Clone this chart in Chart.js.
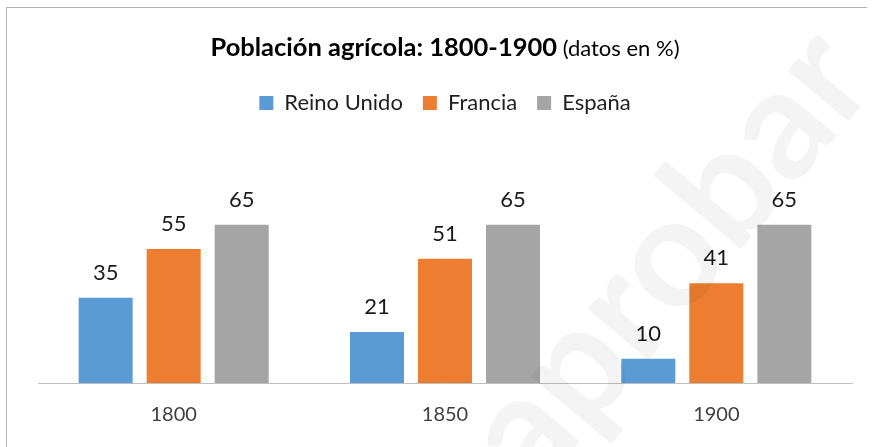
<!DOCTYPE html>
<html lang="es">
<head>
<meta charset="utf-8">
<script src="https://cdn.jsdelivr.net/npm/chart.js@4.4.1/dist/chart.umd.min.js"></script>
<style>
  html, body { margin: 0; padding: 0; background: #fff; }
  #wrap { position: relative; width: 873px; height: 447px; overflow: hidden; }
  #frame { position: absolute; left: 6px; top: 7px; width: 860px; height: 460px;
           border-top: 1px solid #b4b4b4; border-left: 1px solid #b4b4b4; }
  #chart { position: absolute; left: 0; top: 0; }
</style>
</head>
<body>
<div id="wrap">
  <div id="frame"></div>
  <canvas id="chart" width="873" height="447"></canvas>
</div>
<script>
const years = ['1800', '1850', '1900'];
const reinoUnido = [35, 21, 10];
const francia = [55, 51, 41];
const espana = [65, 65, 65];

const FONT = 'Lato, "Open Sans", sans-serif';

// title with a bold part and a normal part on the same line
const titlePlugin = {
  id: 'mixedTitle',
  afterDraw(chart) {
    const ctx = chart.ctx;
    const bold = 'Población agrícola: 1800-1900';
    const normal = ' (datos en %)';
    ctx.save();
    ctx.textBaseline = 'alphabetic';
    ctx.fillStyle = '#000';
    ctx.font = 'bold 25.5px ' + FONT;
    const wb = ctx.measureText(bold).width;
    ctx.font = '22px ' + FONT;
    const wn = ctx.measureText(normal).width;
    const x = 445 - (wb + wn) / 2;
    ctx.font = 'bold 25.5px ' + FONT;
    ctx.fillText(bold, x, 56);
    ctx.font = '22px ' + FONT;
    ctx.fillText(normal, x + wb, 56);
    ctx.restore();
  }
};

// value above each bar
const valueLabels = {
  id: 'valueLabels',
  afterDatasetsDraw(chart) {
    const ctx = chart.ctx;
    ctx.save();
    ctx.font = '22px ' + FONT;
    ctx.fillStyle = '#1a1a1a';
    ctx.textAlign = 'center';
    ctx.textBaseline = 'alphabetic';
    chart.data.datasets.forEach((ds, i) => {
      chart.getDatasetMeta(i).data.forEach((bar, j) => {
        ctx.fillText(ds.data[j], bar.x, bar.y - 18);
      });
    });
    ctx.restore();
  }
};

// faint site watermark across the right side
const watermark = {
  id: 'watermark',
  afterDraw(chart) {
    const ctx = chart.ctx;
    ctx.save();
    ctx.translate(535, 495);
    ctx.rotate(-50 * Math.PI / 180);
    ctx.font = 'bold 155px ' + FONT;
    ctx.fillStyle = 'rgba(0,0,0,0.045)';
    ctx.textBaseline = 'alphabetic';
    ctx.fillText('aprobar', 0, 0);
    ctx.restore();
  }
};

new Chart(document.getElementById('chart'), {
  type: 'bar',
  data: {
    labels: years,
    datasets: [
      { label: 'Reino Unido', data: reinoUnido, backgroundColor: '#5B9BD5' },
      { label: 'Francia', data: francia, backgroundColor: '#ED7D31' },
      { label: 'España', data: espana, backgroundColor: '#A5A5A5' }
    ]
  },
  options: {
    responsive: false,
    animation: false,
    categoryPercentage: 0.752,
    barPercentage: 0.794,
    layout: { padding: { top: 72, left: 38, right: 21, bottom: 0 } },
    plugins: {
      title: { display: false },
      tooltip: { enabled: false },
      legend: {
        position: 'top',
        labels: {
          font: { family: FONT, size: 22 },
          color: '#1f1f1f',
          boxWidth: 14,
          boxHeight: 14,
          padding: 20
        }
      }
    },
    scales: {
      x: {
        grid: { display: false, drawTicks: false },
        border: { display: true, color: '#bfbfbf', width: 1 },
        ticks: { font: { family: FONT, size: 20 }, color: '#404040', padding: 20 }
      },
      y: { display: false, min: 0, max: 106.4 }
    }
  },
  plugins: [titlePlugin, valueLabels, watermark]
});
</script>
</body>
</html>
